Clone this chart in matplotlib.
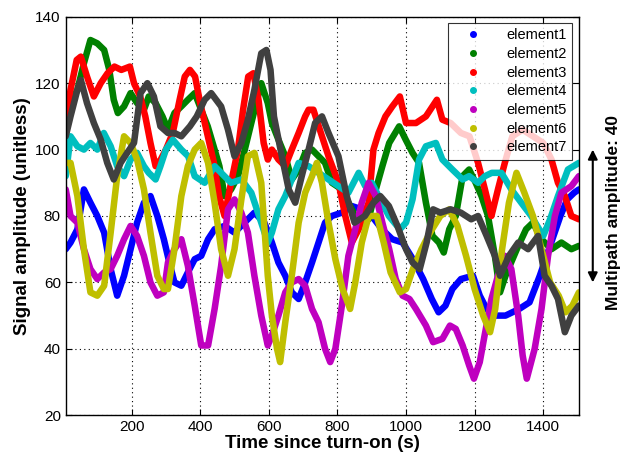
import numpy as np
import matplotlib
matplotlib.use('Agg')
import matplotlib.pyplot as plt
from matplotlib.lines import Line2D

plt.rcParams['font.family'] = ['Liberation Sans', 'DejaVu Sans']

# element1 (blue)
t1 = [8, 22, 42, 61, 80, 100, 120, 139, 158, 178, 197, 216, 236, 255, 275, 294, 310, 325,
      345, 364, 384, 403, 423, 442, 471, 500, 529, 558, 587, 609, 628, 648, 667, 687, 706,
      726, 745, 764, 784, 813, 842, 871, 900, 930, 960, 990, 1020, 1050, 1075, 1095, 1115,
      1135, 1160, 1195, 1215, 1235, 1255, 1290, 1330, 1360, 1390, 1410, 1430, 1450, 1470,
      1490, 1504]
a1 = [70, 72, 76, 88, 84, 80, 75, 64, 56, 62, 70, 78, 84, 86, 80, 73, 66, 60,
      59, 63, 67, 68, 73, 76, 77, 75, 78, 81, 78, 72, 66, 62, 57, 55, 60,
      66, 72, 78, 80, 81, 83, 82, 80, 76, 73, 72, 67, 61, 55, 51, 53,
      58, 61, 62, 56, 52, 50, 50, 52, 54, 62, 68, 74, 80, 85, 87, 88]

# element2 (green)
t2 = [8, 22, 42, 61, 80, 100, 120, 135, 148, 160, 178, 197, 216, 236, 250, 270, 290, 306,
      325, 345, 364, 384, 403, 422, 442, 456, 471, 490, 510, 530, 549, 578, 597, 609, 628,
      648, 667, 687, 706, 726, 745, 764, 784, 813, 842, 862, 891, 912, 931, 951, 980, 999,
      1019, 1038, 1058, 1077, 1096, 1110, 1126, 1145, 1165, 1184, 1203, 1220, 1239, 1259,
      1274, 1290, 1323, 1350, 1370, 1395, 1424, 1453, 1482, 1504]
a2 = [108, 114, 118, 126, 133, 132, 130, 124, 115, 111, 113, 117, 114, 112, 116, 114, 110, 106,
      111, 113, 115, 117, 112, 107, 100, 95, 86, 88, 92, 100, 108, 120, 114, 108, 103,
      98, 91, 94, 99, 100, 98, 96, 90, 88, 82, 78, 79, 88, 95, 102, 107, 103,
      99, 96, 84, 74, 72, 69, 76, 80, 92, 94, 90, 86, 80, 68,
      57, 62, 70, 76, 78, 73, 70, 72, 70, 71]

# element3 (red)
t3 = [8, 22, 40, 52, 70, 90, 110, 130, 150, 170, 195, 207, 225, 240, 255, 270, 285, 300,
      320, 340, 355, 370, 385, 400, 420, 440, 455, 471, 490, 510, 525, 540, 555, 570, 585,
      597, 609, 628, 648, 667, 687, 706, 716, 730, 755, 774, 803, 823, 842, 862, 891, 905,
      920, 940, 960, 982, 1000, 1029, 1058, 1090, 1106, 1130, 1160, 1185, 1210, 1230, 1249,
      1268, 1288, 1310, 1340, 1370, 1400, 1424, 1443, 1463, 1482, 1504]
a3 = [108, 118, 127, 128, 122, 116, 120, 123, 125, 124, 125, 120, 116, 110, 102, 95, 97, 100,
      105, 115, 122, 124, 122, 114, 105, 96, 86, 80, 90, 100, 112, 122, 123, 115, 102,
      97, 100, 97, 95, 100, 105, 110, 112, 112, 104, 98, 90, 80, 72, 76, 84, 100,
      105, 110, 113, 116, 108, 108, 110, 115, 109, 108, 105, 104, 96, 88, 80,
      88, 96, 104, 106, 104, 102, 97, 90, 86, 80, 79]

# element4 (cyan)
t4 = [8, 22, 42, 61, 80, 100, 119, 139, 158, 178, 197, 216, 236, 250, 270, 284, 300, 320,
      345, 365, 384, 413, 442, 461, 490, 520, 549, 578, 597, 609, 628, 648, 667, 687, 716,
      745, 774, 803, 832, 862, 881, 900, 925, 950, 982, 1000, 1019, 1038, 1058, 1087, 1106,
      1135, 1165, 1184, 1210, 1230, 1250, 1278, 1307, 1336, 1365, 1400, 1420, 1443, 1472,
      1504]
a4 = [92, 104, 101, 100, 102, 100, 105, 101, 95, 92, 97, 99, 95, 93, 91, 95, 100, 103,
      100, 98, 92, 90, 95, 93, 90, 91, 87, 78, 72, 75, 82, 86, 91, 96, 95,
      93, 91, 89, 87, 93, 89, 90, 85, 80, 76, 78, 85, 97, 101, 102, 97,
      94, 91, 92, 90, 92, 93, 93, 88, 84, 80, 74, 79, 86, 94,
      96]

# element5 (magenta)
t5 = [8, 22, 42, 61, 80, 100, 120, 139, 158, 178, 197, 216, 236, 255, 275, 294, 306, 325,
      345, 364, 384, 403, 423, 442, 461, 481, 500, 520, 539, 558, 578, 597, 609, 628, 648,
      667, 687, 706, 726, 745, 764, 779, 794, 813, 832, 852, 871, 891, 912, 931, 951, 970,
      990, 1010, 1029, 1058, 1079, 1106, 1128, 1145, 1165, 1184, 1198, 1215, 1229, 1249,
      1268, 1288, 1307, 1327, 1340, 1352, 1375, 1395, 1414, 1434, 1453, 1482, 1504]
a5 = [88, 80, 78, 70, 64, 61, 63, 64, 68, 73, 77, 74, 68, 60, 56, 57, 66, 70,
      73, 65, 53, 41, 41, 52, 65, 82, 85, 81, 75, 62, 50, 41, 44, 50, 57,
      60, 61, 59, 52, 48, 40, 36, 40, 53, 68, 76, 84, 90, 86, 78, 70, 61,
      56, 55, 52, 47, 42, 43, 47, 46, 41, 35, 31, 36, 44, 55,
      62, 68, 64, 50, 38, 31, 40, 52, 68, 80, 87, 89, 92]

# element6 (olive)
t6 = [8, 22, 42, 61, 80, 100, 120, 139, 158, 178, 197, 216, 236, 255, 275, 294, 306, 325,
      345, 364, 384, 403, 423, 442, 461, 481, 500, 520, 539, 558, 578, 597, 609, 624, 633,
      648, 667, 687, 706, 726, 740, 755, 774, 794, 815, 837, 852, 871, 891, 915, 935, 955,
      982, 1000, 1020, 1045, 1070, 1100, 1126, 1150, 1175, 1200, 1225, 1245, 1260, 1280,
      1300, 1322, 1345, 1370, 1395, 1420, 1445, 1465, 1485, 1504]
a6 = [96, 96, 86, 70, 57, 56, 59, 75, 92, 104, 102, 97, 88, 75, 62, 58, 58, 70,
      86, 95, 100, 102, 96, 84, 70, 62, 70, 85, 98, 99, 90, 62, 50, 40, 36,
      48, 62, 78, 87, 92, 96, 90, 78, 67, 58, 52, 60, 72, 80, 80, 72, 63,
      57, 58, 64, 70, 75, 80, 82, 77, 68, 58, 50, 45, 52, 70,
      84, 93, 87, 80, 70, 60, 56, 51, 53, 57]

# element7 (dark grey)
t7 = [8, 22, 42, 52, 70, 90, 110, 129, 148, 168, 187, 207, 226, 246, 265, 284, 306, 325,
      345, 370, 390, 413, 432, 461, 481, 500, 520, 539, 558, 578, 593, 605, 615, 638, 658,
      677, 696, 716, 735, 755, 774, 803, 827, 850, 880, 905, 925, 950, 975, 1000, 1019, 1040,
      1060, 1079, 1100, 1130, 1160, 1190, 1210, 1235, 1259, 1274, 1300, 1327, 1356, 1385,
      1404, 1424, 1443, 1463, 1482, 1504]
a7 = [104, 110, 118, 121, 114, 108, 103, 96, 91, 96, 99, 102, 117, 120, 116, 107, 105, 105,
      104, 107, 110, 115, 117, 113, 106, 98, 102, 109, 118, 129, 130, 124, 110, 98, 88,
      84, 92, 100, 108, 110, 105, 98, 86, 78, 80, 84, 86, 83, 77, 70, 66, 64,
      72, 82, 81, 82, 81, 79, 80, 74, 68, 62, 68, 72, 70, 74,
      62, 59, 55, 45, 50, 53]

labels = ['element1', 'element2', 'element3', 'element4', 'element5', 'element6', 'element7']
colours = ['#0000ff', '#008000', '#ff0000', '#00bfbf', '#bf00bf', '#bfbf00', '#404040']
series = [(t1, a1), (t2, a2), (t3, a3), (t4, a4), (t5, a5), (t6, a6), (t7, a7)]

fig = plt.figure(figsize=(6.32, 4.66), dpi=100)
ax = fig.add_axes([0.104, 0.109, 0.812, 0.855])

for (t, a), c in zip(series, colours):
    ax.plot(t, a, color=c, lw=4.7, solid_joinstyle='round', solid_capstyle='round')

ax.set_xlim(8, 1504)
ax.set_ylim(20, 140)
ax.set_xticks([200, 400, 600, 800, 1000, 1200, 1400])
ax.set_yticks([20, 40, 60, 80, 100, 120, 140])
ax.tick_params(direction='in', top=True, right=True, labelsize=11, length=4)
ax.grid(True, linestyle=(0, (1, 3)), color='k', linewidth=0.8)
for s in ax.spines.values():
    s.set_linewidth(1.0)

ax.set_xlabel('Time since turn-on (s)', fontsize=13.5, fontweight='bold', labelpad=1)
ax.set_ylabel('Signal amplitude (unitless)', fontsize=13.5, fontweight='bold', labelpad=3)

handles = [Line2D([], [], color=c, marker='.', linestyle='none', markersize=8) for c in colours]
leg = ax.legend(handles, labels, loc='upper right', fontsize=10.5, frameon=True, fancybox=False,
                edgecolor='k', borderaxespad=0.45, handletextpad=0.9, labelspacing=0.32,
                borderpad=0.35, handlelength=2.8)
leg.get_frame().set_linewidth(0.8)

# multipath amplitude marker on the right
ytr = ax.get_yaxis_transform()
ax.annotate('', xy=(1.027, 100), xytext=(1.027, 60), xycoords=ytr, textcoords=ytr,
            arrowprops=dict(arrowstyle='<|-|>', color='k', lw=1.5, mutation_scale=14,
                            shrinkA=0, shrinkB=0),
            annotation_clip=False)
ax.text(1.068, 81, 'Multipath amplitude: 40', transform=ytr, rotation=90,
        ha='center', va='center', fontsize=12.5, fontweight='bold')

fig.savefig('out.png', dpi=100)
